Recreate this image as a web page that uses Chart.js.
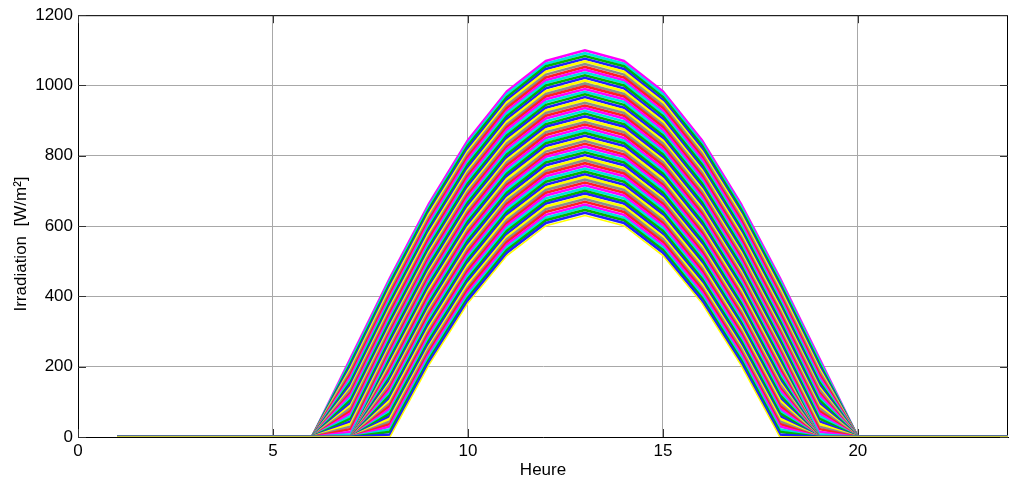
<!DOCTYPE html>
<html>
<head>
<meta charset="utf-8">
<script src="https://cdn.jsdelivr.net/npm/chart.js@4.4.1/dist/chart.umd.min.js"></script>
<style>
html,body{margin:0;padding:0;background:#fff;}
#wrap{width:1009px;height:485px;position:relative;}
</style>
</head>
<body>
<div id="wrap"><canvas id="c"></canvas></div>
<script>
// ---- data ----
const hours = [1,2,3,4,5,6,7,8,9,10,11,12,13,14,15,16,17,18,19,20,21,22,23,24];
const xTickValues = [0,5,10,15,20];
const yTickValues = [0,200,400,600,800,1000,1200];
const xLabel = 'Heure';
const yLabel = 'Irradiation  [W/m²]';
const lineColors = ['#ffff00','#2020ff','#00b400','#00e0e0','#ff00ff','#ff2020','#8c8c8c'];

// one row per daily curve, hourly irradiation values [W/m²] for hours 1..24
const irradiance = [
[0,0,0,0,0,0,0,0,205,381,516,601,630,601,516,381,205,0,0,0,0,0,0,0],
[0,0,0,0,0,0,0,7,213,389,524,609,638,609,524,389,213,7,0,0,0,0,0,0],
[0,0,0,0,0,0,0,15,220,396,532,617,646,617,532,396,220,15,0,0,0,0,0,0],
[0,0,0,0,0,0,0,22,228,404,539,624,654,624,539,404,228,22,0,0,0,0,0,0],
[0,0,0,0,0,0,0,30,236,412,547,632,661,632,547,412,236,30,0,0,0,0,0,0],
[0,0,0,0,0,0,0,37,243,420,555,640,669,640,555,420,243,37,0,0,0,0,0,0],
[0,0,0,0,0,0,0,44,251,427,563,648,677,648,563,427,251,44,0,0,0,0,0,0],
[0,0,0,0,0,0,0,52,258,435,570,656,685,656,570,435,258,52,0,0,0,0,0,0],
[0,0,0,0,0,0,0,59,266,443,578,664,693,664,578,443,266,59,0,0,0,0,0,0],
[0,0,0,0,0,0,0,67,274,450,586,671,700,671,586,450,274,67,0,0,0,0,0,0],
[0,0,0,0,0,0,0,74,281,458,594,679,708,679,594,458,281,74,0,0,0,0,0,0],
[0,0,0,0,0,0,0,81,289,466,602,687,716,687,602,466,289,81,0,0,0,0,0,0],
[0,0,0,0,0,0,0,89,297,474,609,695,724,695,609,474,297,89,0,0,0,0,0,0],
[0,0,0,0,0,0,0,96,304,481,617,703,732,703,617,481,304,96,0,0,0,0,0,0],
[0,0,0,0,0,0,0,104,312,489,625,710,740,710,625,489,312,104,0,0,0,0,0,0],
[0,0,0,0,0,0,0,111,320,497,633,718,747,718,633,497,320,111,0,0,0,0,0,0],
[0,0,0,0,0,0,0,119,327,505,640,726,755,726,640,505,327,119,0,0,0,0,0,0],
[0,0,0,0,0,0,0,126,335,512,648,734,763,734,648,512,335,126,0,0,0,0,0,0],
[0,0,0,0,0,0,0,134,342,520,656,742,771,742,656,520,342,134,0,0,0,0,0,0],
[0,0,0,0,0,0,0,141,350,528,664,750,779,750,664,528,350,141,0,0,0,0,0,0],
[0,0,0,0,0,0,0,149,358,535,672,757,787,757,672,535,358,149,0,0,0,0,0,0],
[0,0,0,0,0,0,0,156,365,543,679,765,794,765,679,543,365,156,0,0,0,0,0,0],
[0,0,0,0,0,0,0,164,373,551,687,773,802,773,687,551,373,164,0,0,0,0,0,0],
[0,0,0,0,0,0,0,171,381,559,695,781,810,781,695,559,381,171,0,0,0,0,0,0],
[0,0,0,0,0,0,0,179,388,566,703,789,818,789,703,566,388,179,0,0,0,0,0,0],
[0,0,0,0,0,0,0,186,396,574,711,797,826,797,711,574,396,186,0,0,0,0,0,0],
[0,0,0,0,0,0,0,194,404,582,718,804,834,804,718,582,404,194,0,0,0,0,0,0],
[0,0,0,0,0,0,0,201,411,589,726,812,842,812,726,589,411,201,0,0,0,0,0,0],
[0,0,0,0,0,0,0,209,419,597,734,820,849,820,734,597,419,209,0,0,0,0,0,0],
[0,0,0,0,0,0,0,216,427,605,742,828,857,828,742,605,427,216,0,0,0,0,0,0],
[0,0,0,0,0,0,0,224,434,613,749,836,865,836,749,613,434,224,0,0,0,0,0,0],
[0,0,0,0,0,0,8,231,442,620,757,843,873,843,757,620,442,231,8,0,0,0,0,0],
[0,0,0,0,0,0,15,239,449,628,765,851,881,851,765,628,449,239,15,0,0,0,0,0],
[0,0,0,0,0,0,23,246,457,636,773,859,889,859,773,636,457,246,23,0,0,0,0,0],
[0,0,0,0,0,0,30,254,465,643,781,867,896,867,781,643,465,254,30,0,0,0,0,0],
[0,0,0,0,0,0,38,261,472,651,788,875,904,875,788,651,472,261,38,0,0,0,0,0],
[0,0,0,0,0,0,45,269,480,659,796,883,912,883,796,659,480,269,45,0,0,0,0,0],
[0,0,0,0,0,0,53,277,488,667,804,890,920,890,804,667,488,277,53,0,0,0,0,0],
[0,0,0,0,0,0,60,284,495,674,812,898,928,898,812,674,495,284,60,0,0,0,0,0],
[0,0,0,0,0,0,68,292,503,682,819,906,936,906,819,682,503,292,68,0,0,0,0,0],
[0,0,0,0,0,0,75,299,510,690,827,914,943,914,827,690,510,299,75,0,0,0,0,0],
[0,0,0,0,0,0,83,307,518,698,835,922,951,922,835,698,518,307,83,0,0,0,0,0],
[0,0,0,0,0,0,90,314,526,705,843,929,959,929,843,705,526,314,90,0,0,0,0,0],
[0,0,0,0,0,0,98,322,533,713,851,937,967,937,851,713,533,322,98,0,0,0,0,0],
[0,0,0,0,0,0,106,330,541,721,858,945,975,945,858,721,541,330,106,0,0,0,0,0],
[0,0,0,0,0,0,113,337,549,728,866,953,982,953,866,728,549,337,113,0,0,0,0,0],
[0,0,0,0,0,0,121,345,556,736,874,961,990,961,874,736,556,345,121,0,0,0,0,0],
[0,0,0,0,0,0,128,353,564,744,882,969,998,969,882,744,564,353,128,0,0,0,0,0],
[0,0,0,0,0,0,136,360,571,752,889,976,1006,976,889,752,571,360,136,0,0,0,0,0],
[0,0,0,0,0,0,143,368,579,759,897,984,1014,984,897,759,579,368,143,0,0,0,0,0],
[0,0,0,0,0,0,151,375,587,767,905,992,1022,992,905,767,587,375,151,0,0,0,0,0],
[0,0,0,0,0,0,158,383,594,775,913,1000,1029,1000,913,775,594,383,158,0,0,0,0,0],
[0,0,0,0,0,0,166,391,602,782,921,1008,1037,1008,921,782,602,391,166,0,0,0,0,0],
[0,0,0,0,0,0,173,398,610,790,928,1015,1045,1015,928,790,610,398,173,0,0,0,0,0],
[0,0,0,0,0,0,181,406,617,798,936,1023,1053,1023,936,798,617,406,181,0,0,0,0,0],
[0,0,0,0,0,0,189,414,625,806,944,1031,1061,1031,944,806,625,414,189,0,0,0,0,0],
[0,0,0,0,0,0,196,422,633,813,952,1039,1069,1039,952,813,633,422,196,0,0,0,0,0],
[0,0,0,0,0,0,204,429,640,821,959,1047,1076,1047,959,821,640,429,204,0,0,0,0,0],
[0,0,0,0,0,0,211,437,648,829,967,1055,1084,1055,967,829,648,437,211,0,0,0,0,0],
[0,0,0,0,0,0,219,445,655,836,975,1062,1092,1062,975,836,655,445,219,0,0,0,0,0],
[0,0,0,0,0,0,226,452,663,844,983,1070,1100,1070,983,844,663,452,226,0,0,0,0,0]
];

// ---- chart ----
const FONT = "'Liberation Sans', Arial, Helvetica, sans-serif";

const datasets = irradiance.map((vals, k) => ({
  data: hours.map((h, i) => ({x: h, y: vals[i]})),
  borderColor: lineColors[k % lineColors.length],
  borderWidth: k === 0 ? 1.5 : 2.6,
  pointRadius: 0,
  pointHoverRadius: 0,
  fill: false,
  tension: 0
}));

const framePlugin = {
  id: 'frame',
  beforeDatasetsDraw(chart) {
    const {ctx, chartArea: a, scales} = chart;
    ctx.save();
    ctx.strokeStyle = '#000';
    ctx.lineWidth = 1;
    ctx.beginPath();
    ctx.moveTo(a.left, a.top + 0.5); ctx.lineTo(a.right, a.top + 0.5);
    ctx.moveTo(a.right - 0.5, a.top); ctx.lineTo(a.right - 0.5, a.bottom);
    ctx.stroke();
    // inward tick marks
    ctx.strokeStyle = '#333';
    ctx.beginPath();
    const tl = 8;
    xTickValues.forEach(v => {
      const px = Math.round(scales.x.getPixelForValue(v)) + 0.5;
      ctx.moveTo(px, a.bottom); ctx.lineTo(px, a.bottom - tl);
      ctx.moveTo(px, a.top); ctx.lineTo(px, a.top + tl);
    });
    yTickValues.forEach(v => {
      const py = Math.round(scales.y.getPixelForValue(v)) + 0.5;
      ctx.moveTo(a.left, py); ctx.lineTo(a.left + tl, py);
      ctx.moveTo(a.right, py); ctx.lineTo(a.right - tl, py);
    });
    ctx.stroke();
    ctx.restore();
  },
  afterDraw(chart) {
    const {ctx} = chart;
    ctx.save();
    ctx.font = '17px ' + FONT;
    ctx.fillStyle = '#000';
    ctx.translate(21, 244);
    ctx.rotate(-Math.PI / 2);
    ctx.textAlign = 'center';
    ctx.textBaseline = 'middle';
    ctx.fillText(yLabel, 0, 0);
    ctx.restore();
  }
};

new Chart(document.getElementById('c'), {
  type: 'line',
  data: {datasets},
  options: {
    responsive: true,
    maintainAspectRatio: false,
    animation: false,
    events: [],
    layout: {padding: {top: 14, right: 1, left: 0, bottom: 0}},
    plugins: {legend: {display: false}, tooltip: {enabled: false}},
    scales: {
      x: {
        type: 'linear', min: 0, max: 23.85,
        afterFit(s) { s.height = 48; },
        afterBuildTicks(s) { s.ticks = xTickValues.map(v => ({value: v})); },
        ticks: {font: {family: FONT, size: 17}, color: '#000', padding: 4, maxRotation: 0, autoSkip: false,
                callback: v => String(v)},
        grid: {color: '#a8a8a8', lineWidth: 1, drawTicks: false},
        border: {color: '#000', width: 1},
        title: {display: true, text: xLabel, font: {family: FONT, size: 17}, color: '#000', padding: {top: 0, bottom: 4}}
      },
      y: {
        type: 'linear', min: 0, max: 1200,
        afterFit(s) { s.width = 78; },
        afterBuildTicks(s) { s.ticks = yTickValues.map(v => ({value: v})); },
        ticks: {font: {family: FONT, size: 17}, color: '#000', padding: 5, autoSkip: false,
                callback: v => String(v)},
        grid: {color: '#a8a8a8', lineWidth: 1, drawTicks: false},
        border: {color: '#000', width: 1}
      }
    }
  },
  plugins: [framePlugin]
});
</script>
</body>
</html>
